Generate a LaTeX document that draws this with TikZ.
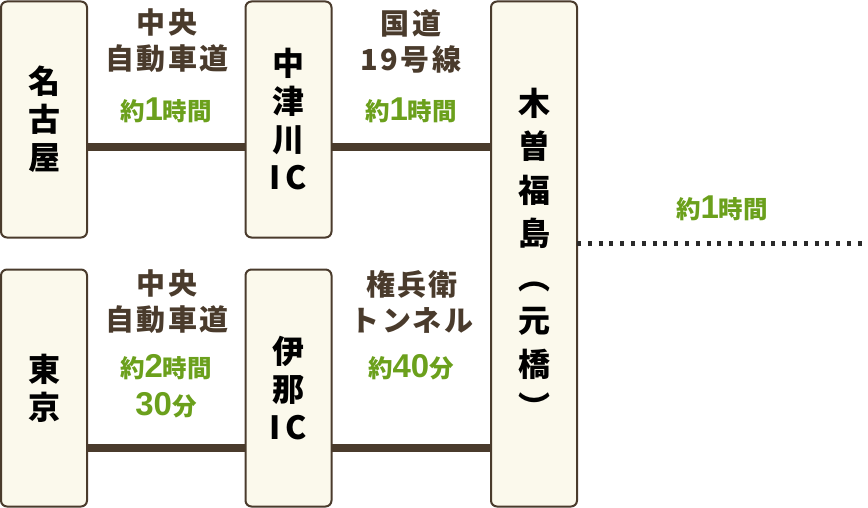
\documentclass[tikz,border=0pt]{standalone}
\usepackage{fontspec}
\setmainfont{Noto Sans CJK JP}
\newfontfamily\tdigfont{Liberation Sans}
\definecolor{brn}{HTML}{4A3B2C}
\definecolor{boxfill}{HTML}{FBF9EC}
\definecolor{grn}{HTML}{6BA01C}
\definecolor{dotc}{HTML}{2A2A2A}
\newcommand\tdig[1]{{\tdigfont\bfseries\fontsize{33}{38}\selectfont #1}}
\begin{document}
\begin{tikzpicture}[x=1pt,y=-1pt,
  stbox/.style={draw=brn, line width=2pt, fill=boxfill, rounded corners=6pt,
    inner sep=0pt, outer sep=0pt, align=center, text=black,
    font=\bfseries\fontsize{32}{38}\selectfont},
  lab/.style={text=brn, align=center, inner sep=0pt,
    font=\bfseries\fontsize{29}{36}\selectfont\addfontfeature{LetterSpace=8}},
  tm/.style={text=grn, align=center, inner sep=0pt,
    font=\bfseries\fontsize{24.5}{38}\selectfont},
  road/.style={draw=brn, line width=8pt},
  dotline/.style={draw=dotc, line width=4.5pt, dash pattern=on 4pt off 6.8pt}]
\useasboundingbox (0,0) rectangle (868,508);
\coordinate (ytop) at (0,147.5);
\coordinate (ybot) at (0,447.5);
\coordinate (ydot) at (0,243.5);
\coordinate (dotend) at (868,243.5);
% boxes
\node[stbox, minimum width=86pt, minimum height=236pt] (nagoya) at (44,119.5) {名\\古\\屋};
\node[stbox, minimum width=86pt, minimum height=236pt] (nakatsu) at (288.5,119.5) {中\\津\\川\\I\hspace{5pt}C};
\node[stbox, minimum width=86pt, minimum height=237pt] (tokyo) at (44,388) {東\\京};
\node[stbox, minimum width=86pt, minimum height=237pt] (ina) at (288.5,388) {伊\\那\\I\hspace{5pt}C};
\node[stbox, minimum width=86pt, minimum height=505pt, font=\bfseries\fontsize{32}{43.5}\selectfont] (kiso) at (534,254) {木\\曽\\福\\島\\︵\\元\\橋\\︶};
% roads
\draw[road] (nagoya.east |- ytop) -- (nakatsu.west |- ytop);
\draw[road] (nakatsu.east |- ytop) -- (kiso.west |- ytop);
\draw[road] (tokyo.east |- ybot) -- (ina.west |- ybot);
\draw[road] (ina.east |- ybot) -- (kiso.west |- ybot);
\draw[dotline] (kiso.east |- ydot) -- (dotend);
% labels
\node[lab] (l1) at (167,41) {中央\\自動車道};
\node[tm] (t1) at (166,110) {約\tdig{1}時間};
\node[lab] (l2) at (411,41) {国道\\19号線};
\node[tm] (t2) at (411,110) {約\tdig{1}時間};
\node[tm] (t3) at (722,208) {約\tdig{1}時間};
\node[lab] (l3) at (167,302) {中央\\自動車道};
\node[tm] (t4) at (166,386) {約\tdig{2}時間\\\tdig{30}分};
\node[lab] (l4) at (412,302) {権兵衛\\トンネル};
\node[tm] (t5) at (411,367) {約\tdig{40}分};
\end{tikzpicture}
\end{document}
